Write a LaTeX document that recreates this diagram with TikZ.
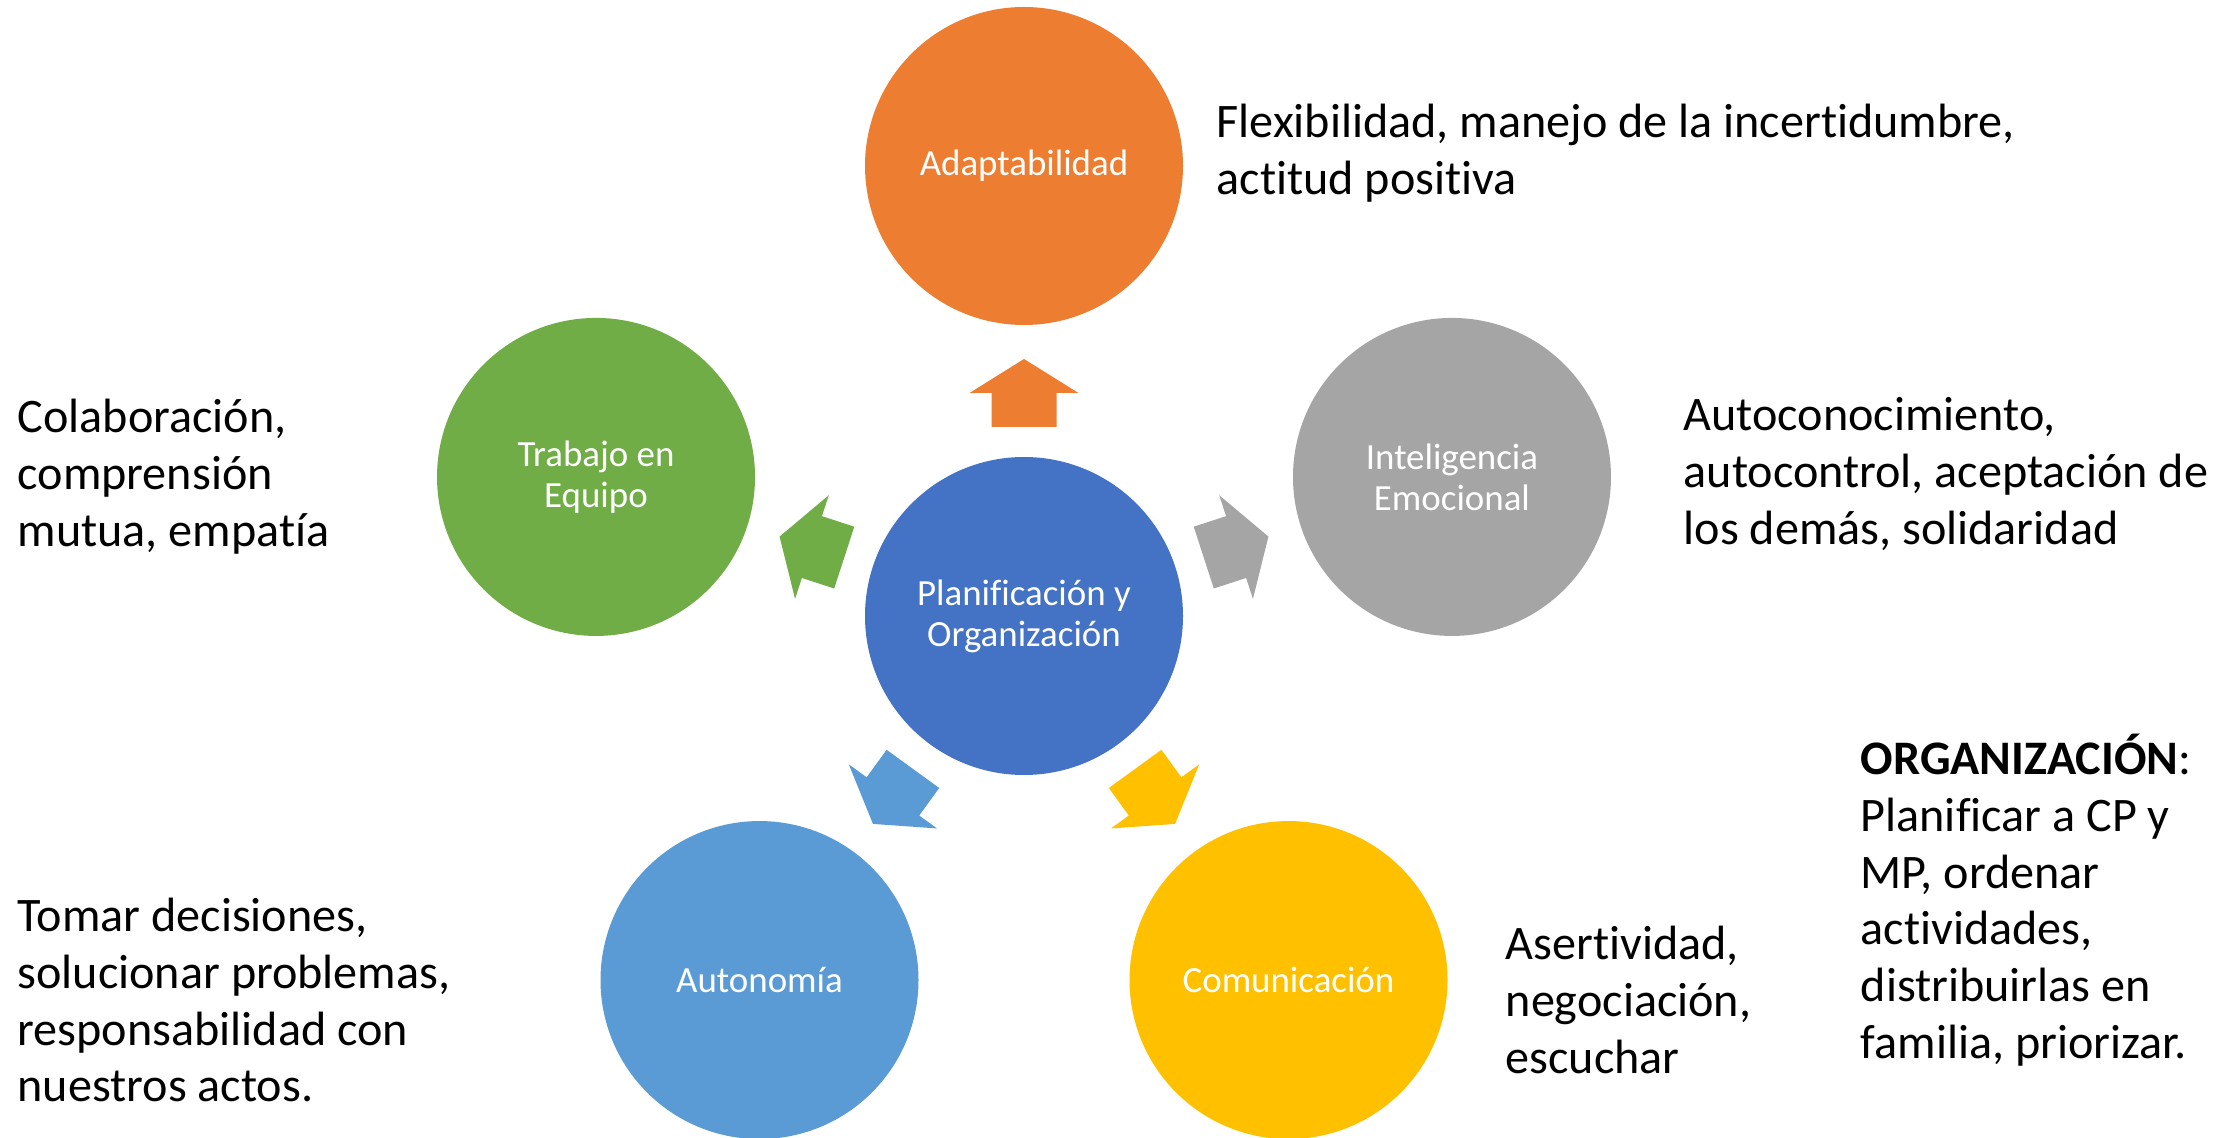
\documentclass[tikz,border=0pt]{standalone}
\usepackage{fontspec}
\setmainfont{Carlito}[Ligatures=NoCommon]
\usepackage{tikz}
\usetikzlibrary{positioning}

\definecolor{cblue}{HTML}{4472C4}
\definecolor{corange}{HTML}{ED7D31}
\definecolor{cgrey}{HTML}{A5A5A5}
\definecolor{cyellow}{HTML}{FFC000}
\definecolor{clight}{HTML}{5B9BD5}
\definecolor{cgreen}{HTML}{70AD47}

\tikzset{
  bubble/.style={circle, minimum size=3.18cm, inner sep=0pt, text=white, align=center,
    font=\fontsize{10.5}{11.7}\selectfont},
  note/.style={anchor=north west, align=left, inner sep=0pt,
    font=\fontsize{13.7}{16.2}\selectfont},
}

\begin{document}
\begin{tikzpicture}[line cap=round,line join=round,x=1.0cm,y=1.0cm]
\useasboundingbox (0,0) rectangle (22.37,11.37);

% hub and the five skills
\node[bubble, fill=cblue] (hub) at (10.24,5.21) {Planificación y\\Organización};
\node[bubble, fill=corange] (adapt) at ([shift={(90:4.5)}]hub.center) {Adaptabilidad};
\node[bubble, fill=cgrey] (intel) at ([shift={(18:4.5)}]hub.center) {Inteligencia\\Emocional};
\node[bubble, fill=cyellow] (comun) at ([shift={(-54:4.5)}]hub.center) {Comunicación};
\node[bubble, fill=clight] (auto) at ([shift={(-126:4.5)}]hub.center) {Autonomía};
\node[bubble, fill=cgreen] (equipo) at ([shift={(162:4.5)}]hub.center) {Trabajo en\\Equipo};

% block arrows out of the hub
\foreach \ang/\col in {90/corange, 18/cgrey, -54/cyellow, -126/clight, 162/cgreen}
  \fill[\col, shift={(hub.center)}, rotate=\ang]
    (1.89,-0.325) -- (2.23,-0.325) -- (2.23,-0.545) -- (2.57,0)
    -- (2.23,0.545) -- (2.23,0.325) -- (1.89,0.325) -- cycle;

% descriptions
\node[note] (tadapt) at (12.16,10.34) {Flexibilidad, manejo de la incertidumbre,\\actitud positiva};
\node[note] (tequipo) at (0.17,7.39) {Colaboración,\\comprensión\\mutua, empatía};
\node[note] (tintel) at (16.83,7.40) {Autoconocimiento,\\autocontrol, aceptación de\\los demás, solidaridad};
\node[note] (tauto) at (0.17,2.40) {Tomar decisiones,\\solucionar problemas,\\responsabilidad con\\nuestros actos.};
\node[note] (tcomun) at (15.05,2.12) {Asertividad,\\negociación,\\escuchar};
\node[note] (torg) at (18.60,4.04) {\textbf{ORGANIZACIÓN}:\\Planificar a CP y\\MP, ordenar\\actividades,\\distribuirlas en\\familia, priorizar.};
\end{tikzpicture}
\end{document}
